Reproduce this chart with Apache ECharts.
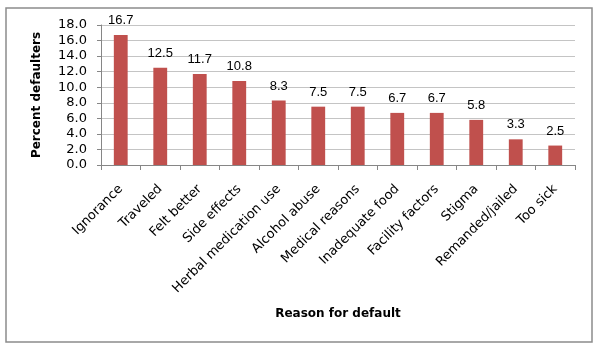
<!DOCTYPE html>
<html>
<head>
<meta charset="utf-8">
<script src="https://cdn.jsdelivr.net/npm/echarts@6/dist/echarts.min.js"></script>
<style>
  html, body { margin: 0; padding: 0; background: #fff; }
  #chart { width: 600px; height: 352px; }
</style>
</head>
<body>
<div id="chart"></div>
<script>
// reasons for default and share of defaulters (%)
var reasons = ['Ignorance', 'Traveled', 'Felt better', 'Side effects', 'Herbal medication use',
    'Alcohol abuse', 'Medical reasons', 'Inadequate food', 'Facility factors', 'Stigma',
    'Remanded/jailed', 'Too sick'];
var percents = [16.7, 12.5, 11.7, 10.8, 8.3, 7.5, 7.5, 6.7, 6.7, 5.8, 3.3, 2.5];

var myChart = echarts.init(document.getElementById('chart'));

var option = {
    animation: false,
    graphic: [
        {
            type: 'rect',
            shape: { x: 6, y: 8, width: 586, height: 334 },
            style: { fill: 'none', stroke: '#8c8c8c', lineWidth: 1.5 }
        }
    ],
    grid: { left: 101, right: 25, top: 25, bottom: 187 },
    xAxis: {
        type: 'category',
        data: reasons,
        name: 'Reason for default',
        nameLocation: 'middle',
        nameGap: 143,
        nameTextStyle: { fontFamily: 'DejaVu Sans', fontWeight: 'bold', fontSize: 12, color: '#000' },
        axisLine: { lineStyle: { color: '#868686' } },
        axisTick: { show: true, length: 5, lineStyle: { color: '#868686' } },
        axisLabel: {
            rotate: 45,
            interval: 0,
            margin: 22,
            fontFamily: 'DejaVu Sans',
            fontSize: 13,
            color: '#000'
        }
    },
    yAxis: {
        type: 'value',
        min: 0,
        max: 18,
        interval: 2,
        name: 'Percent defaulters',
        nameLocation: 'middle',
        nameGap: 58,
        nameTextStyle: { fontFamily: 'DejaVu Sans', fontWeight: 'bold', fontSize: 12, color: '#000' },
        axisLine: { show: true, lineStyle: { color: '#868686' } },
        axisTick: { show: true, length: 4, lineStyle: { color: '#868686' } },
        axisLabel: {
            margin: 14,
            fontFamily: 'DejaVu Sans',
            fontSize: 13,
            color: '#000',
            formatter: function (v) { return v.toFixed(1); }
        },
        splitLine: { lineStyle: { color: '#c4c4c4' } }
    },
    series: [{
        type: 'bar',
        data: percents,
        barWidth: '35%',
        itemStyle: { color: '#C0504D' },
        label: {
            show: true,
            position: 'top',
            distance: 8,
            fontFamily: 'Liberation Sans',
            fontSize: 13,
            color: '#000',
            formatter: function (p) { return p.value.toFixed(1); }
        }
    }]
};

myChart.setOption(option);
</script>
</body>
</html>
